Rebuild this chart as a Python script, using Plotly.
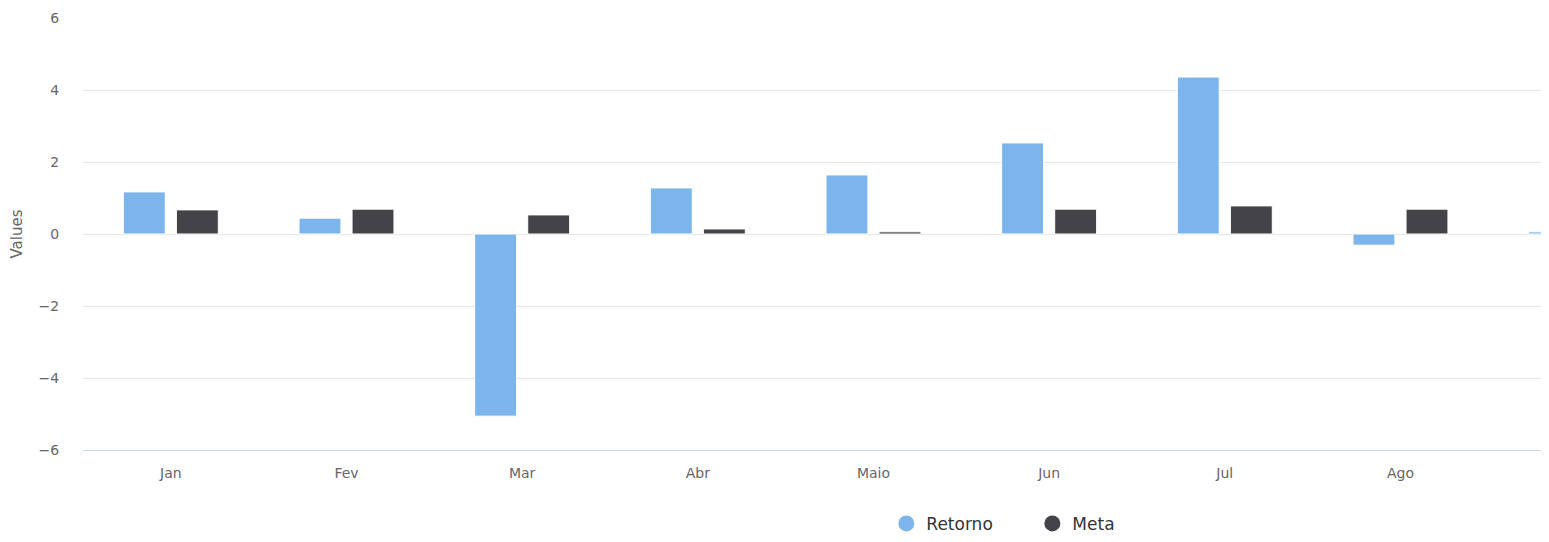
import plotly.graph_objects as go

categories = ["Jan", "Fev", "Mar", "Abr", "Maio", "Jun", "Jul", "Ago", "Set"]
retorno = [1.17, 0.44, -5.06, 1.28, 1.64, 2.53, 4.36, -0.31, 0.06]
meta = [0.67, 0.69, 0.53, 0.14, 0.06, 0.69, 0.78, 0.69, None]
y_ticks = [-6, -4, -2, 0, 2, 4, 6]

c_ret = "#7cb5ec"
c_meta = "#434348"
font_family = "DejaVu Sans, Lato, sans-serif"

fig = go.Figure()
fig.add_trace(go.Bar(x=categories, y=retorno, name="Retorno", marker=dict(color=c_ret, line=dict(color="white", width=1)), showlegend=False))
fig.add_trace(go.Bar(x=categories, y=meta, name="Meta", marker=dict(color=c_meta, line=dict(color="white", width=1)), showlegend=False))
# legend entries with circle symbols
fig.add_trace(go.Scatter(x=[None], y=[None], mode="markers", name="Retorno", marker=dict(color=c_ret, size=17, symbol="circle")))
fig.add_trace(go.Scatter(x=[None], y=[None], mode="markers", name="Meta", marker=dict(color=c_meta, size=17, symbol="circle")))

# page body has an 8px margin, so the figure is sized to fit inside the viewport
fig.update_layout(
    width=1533, height=526,
    margin=dict(l=75, r=0, t=10, b=84, autoexpand=False),
    paper_bgcolor="white", plot_bgcolor="white",
    barmode="group", bargap=0.396, bargroupgap=0.21,
    font=dict(family=font_family, color="#666666", size=14),
    legend=dict(orientation="h", x=0.551, xanchor="left", y=-0.171, yanchor="middle",
                font=dict(size=17, color="#333333"), itemwidth=30, tracegroupgap=0,
                entrywidth=101, entrywidthmode="pixels"),
)
fig.update_xaxes(
    type="category", range=[-0.5, 7.80], automargin=False,
    showgrid=False, showline=True, linecolor="#ccd6eb", linewidth=1,
    ticks="outside", ticklen=10, tickcolor="rgba(0,0,0,0)",
    tickfont=dict(size=14, color="#666666"), zeroline=False,
)
fig.update_yaxes(
    range=[-6, 6], tickvals=y_ticks, automargin=False,
    showgrid=True, gridcolor="#e6e6e6", gridwidth=1,
    zeroline=True, zerolinecolor="#e6e6e6", zerolinewidth=1,
    ticks="outside", ticklen=20, tickcolor="rgba(0,0,0,0)",
    tickfont=dict(size=14, color="#666666"),
    title=dict(text="Values", font=dict(size=15, color="#666666"), standoff=30),
)

fig.write_html("out.html")
